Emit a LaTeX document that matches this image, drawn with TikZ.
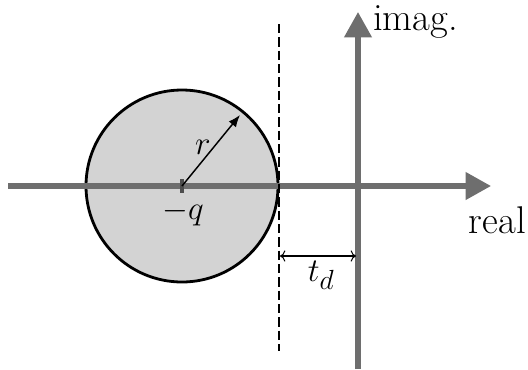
\documentclass[tikz,border=0pt]{standalone}
\usepackage{amsmath}
\usetikzlibrary{arrows.meta}
\definecolor{axisgray}{RGB}{110,110,110}
\definecolor{diskgray}{RGB}{211,211,211}

\begin{document}
\begin{tikzpicture}[
  x=0.75pt, y=-0.75pt,
  axis/.style={draw=axisgray, line width=3.8pt, -{Triangle[length=19pt, width=20pt]}},
  disk/.style={draw=black, fill=diskgray, line width=2.1pt},
  every node/.style={font=\fontsize{29}{35}\selectfont, inner sep=0pt}
]
\useasboundingbox (0,0) rectangle (528,369);

% axes
\coordinate (west) at (8,186);
\coordinate (east) at (491,186);
\coordinate (south) at (358,369);
\coordinate (north) at (358,12);
\draw[disk] (182,186) circle (96);
\draw[axis] (west) -- (east);
\draw[axis] (south) -- (north);
\node[anchor=base west] (imag) at (373,30) {imag.};
\node[anchor=base east] (real) at (526,233) {real};

% centre and radius
\coordinate (centre) at (182,186);
\coordinate (rim) at (240,115);
\draw[axisgray!70!black, line width=2.4pt] (182,179) -- (182,193);
\draw[line width=1.1pt, -{Latex[length=9pt, width=7pt]}] (centre) -- (rim);
\node (rlab) at (203,147) {$r$};
\node (qlab) at (183,213) {$-q$};

% boundary and distance
\coordinate (dtop) at (279,24);
\coordinate (dbot) at (279,351);
\draw[line width=1.5pt, dash pattern=on 7pt off 3pt] (dtop) -- (dbot);
\coordinate (tdl) at (280,256);
\coordinate (tdr) at (356,256);
\draw[line width=0.8pt, {To[length=4pt]}-{To[length=4pt]}] (tdl) -- (tdr);
\node (tlab) at (321,275) {$t_d$};

\end{tikzpicture}
\end{document}
